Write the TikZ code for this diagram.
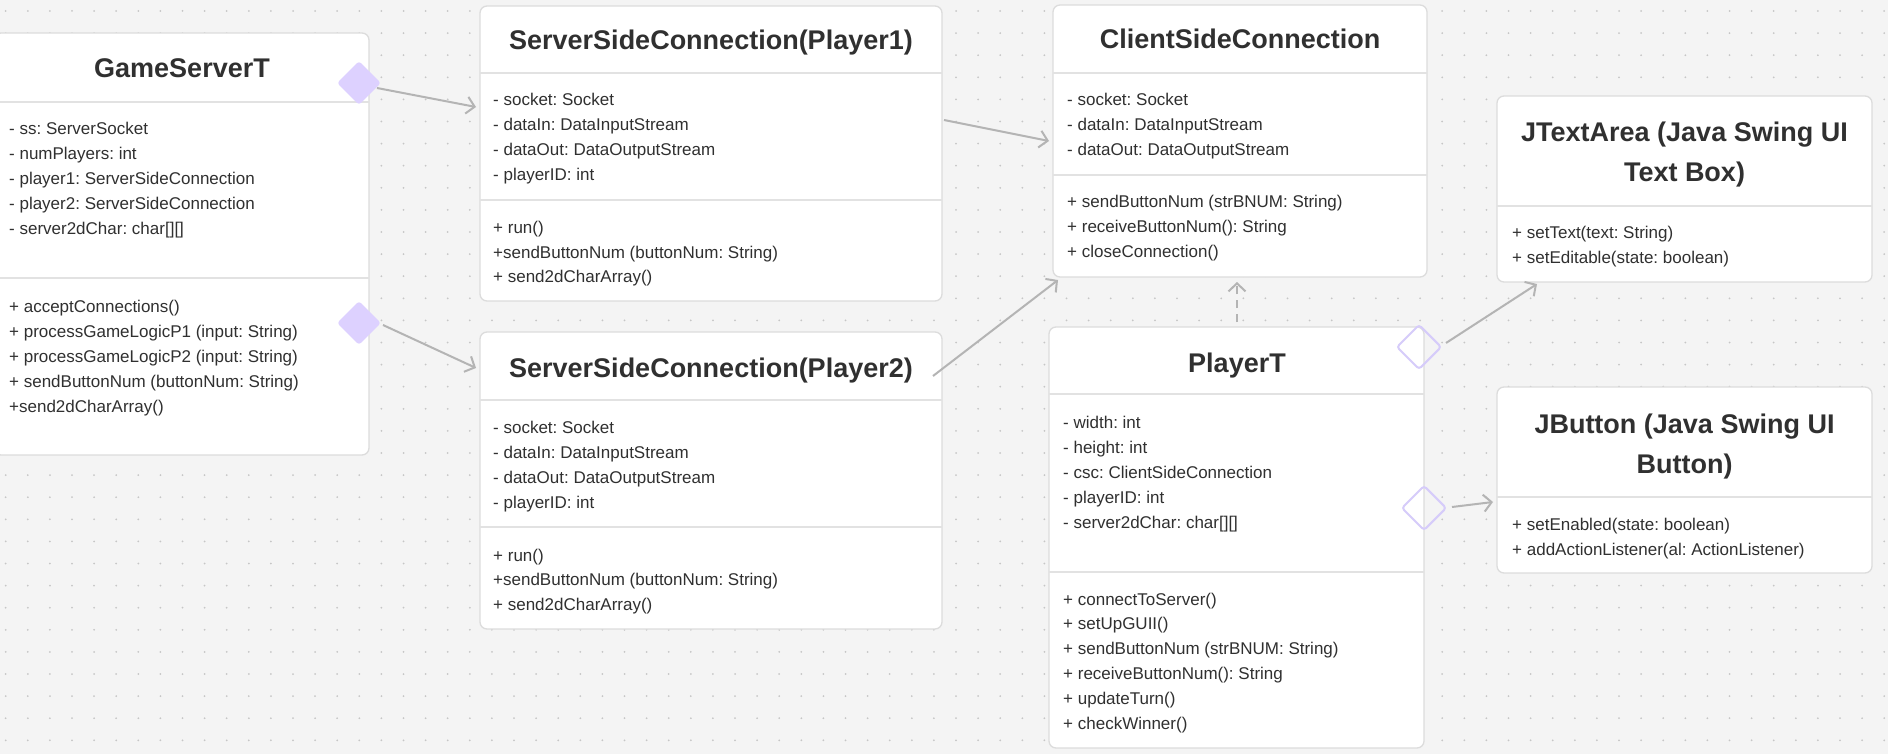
\documentclass[tikz,border=0pt]{standalone}
\usepackage{fontspec}
\setmainfont{Liberation Sans}
\frenchspacing
\usetikzlibrary{arrows.meta,shapes.geometric}
\definecolor{bgc}{HTML}{F4F4F4}
\definecolor{dotc}{HTML}{C6C6C6}
\definecolor{boxborder}{HTML}{DCDCDC}
\definecolor{sepgray}{HTML}{E2E2E2}
\definecolor{ink}{HTML}{303030}
\definecolor{arrowgray}{HTML}{B4B4B4}
\definecolor{lav}{HTML}{DDD1FF}
\definecolor{lavline}{HTML}{D6CCFA}
\tikzset{
  classbox/.style={draw=boxborder, line width=1.3pt, fill=white, rounded corners=7pt, inner sep=0pt, outer sep=0pt, anchor=north west},
  ttl/.style={font=\fontsize{27}{32}\selectfont\bfseries, text=ink, anchor=base, inner sep=0pt},
  mem/.style={font=\fontsize{17}{20}\selectfont\frenchspacing, text=ink, anchor=base west, inner sep=0pt},
  sepline/.style={draw=sepgray, line width=1.6pt},
  link/.style={draw=arrowgray, line width=2pt, -{Straight Barb[length=8pt,width=17pt,line width=2pt]}},
  agg/.style={diamond, aspect=1, inner sep=0pt, minimum width=44pt, minimum height=44pt, fill=lav, rounded corners=3pt},
  hagg/.style={diamond, aspect=1, inner sep=0pt, minimum width=45pt, minimum height=45pt, draw=lavline, line width=2pt, rounded corners=3pt},
}
\begin{document}
\begin{tikzpicture}[x=1pt,y=-1pt]
\useasboundingbox (0,0) rectangle (1888,754);
\fill[bgc] (0,0) rectangle (1888,754);
\foreach \i in {0,...,85} \foreach \j in {0,...,33}
  \fill[dotc] (5.7+22.1*\i, 11+22.1*\j) circle (1pt);

% ---------- GameServerT ----------
\node[classbox, minimum width=375pt, minimum height=422pt] (gst) at (-6,33) {};
\draw[sepline] (-6,102) -- (369,102);
\draw[sepline] (-6,278) -- (369,278);
\node[ttl] (gstt) at (182,78) {GameServerT};
\foreach \t [count=\k from 0] in {{- ss: ServerSocket},{- numPlayers: int},{- player1: ServerSideConnection},{- player2: ServerSideConnection},{- server2dChar: char[][]}}
  \node[mem] (gsa\k) at (9,135+25*\k) {\t};
\foreach \t [count=\k from 0] in {{+ acceptConnections()},{+ processGameLogicP1 (input: String)},{+ processGameLogicP2 (input: String)},{+ sendButtonNum (buttonNum: String)},{+send2dCharArray()}}
  \node[mem] (gsm\k) at (9,312+25*\k) {\t};

% ---------- ServerSideConnection(Player1) ----------
\node[classbox, minimum width=462pt, minimum height=295pt] (ssc1) at (480,6) {};
\draw[sepline] (480,73) -- (942,73);
\draw[sepline] (480,200) -- (942,200);
\node[ttl] (ssc1t) at (711,50) {ServerSideConnection(Player1)};
\foreach \t [count=\k from 0] in {{- socket: Socket},{- dataIn: DataInputStream},{- dataOut: DataOutputStream},{- playerID: int}}
  \node[mem] (s1a\k) at (493,106+25*\k) {\t};
\foreach \t [count=\k from 0] in {{+ run()},{+sendButtonNum (buttonNum: String)},{+ send2dCharArray()}}
  \node[mem] (s1m\k) at (493,234+24.5*\k) {\t};

% ---------- ServerSideConnection(Player2) ----------
\node[classbox, minimum width=462pt, minimum height=297pt] (ssc2) at (480,332) {};
\draw[sepline] (480,400) -- (942,400);
\draw[sepline] (480,527) -- (942,527);
\node[ttl] (ssc2t) at (711,377) {ServerSideConnection(Player2)};
\foreach \t [count=\k from 0] in {{- socket: Socket},{- dataIn: DataInputStream},{- dataOut: DataOutputStream},{- playerID: int}}
  \node[mem] (s2a\k) at (493,433+25*\k) {\t};
\foreach \t [count=\k from 0] in {{+ run()},{+sendButtonNum (buttonNum: String)},{+ send2dCharArray()}}
  \node[mem] (s2m\k) at (493,561+24.5*\k) {\t};

% ---------- ClientSideConnection ----------
\node[classbox, minimum width=374pt, minimum height=272pt] (csc) at (1053,5) {};
\draw[sepline] (1053,73) -- (1427,73);
\draw[sepline] (1053,175) -- (1427,175);
\node[ttl] (csct) at (1240,49) {ClientSideConnection};
\foreach \t [count=\k from 0] in {{- socket: Socket},{- dataIn: DataInputStream},{- dataOut: DataOutputStream}}
  \node[mem] (ca\k) at (1067,106+25*\k) {\t};
\foreach \t [count=\k from 0] in {{+ sendButtonNum (strBNUM: String)},{+ receiveButtonNum(): String},{+ closeConnection()}}
  \node[mem] (cm\k) at (1067,208+25*\k) {\t};

% ---------- PlayerT ----------
\node[classbox, minimum width=375pt, minimum height=421pt] (pt) at (1049,327) {};
\draw[sepline] (1049,394) -- (1424,394);
\draw[sepline] (1049,572) -- (1424,572);
\node[ttl] (ptt) at (1237,372) {PlayerT};
\foreach \t [count=\k from 0] in {{- width: int},{- height: int},{- csc: ClientSideConnection},{- playerID: int},{- server2dChar: char[][]}}
  \node[mem] (pa\k) at (1063,428+25*\k) {\t};
\foreach \t [count=\k from 0] in {{+ connectToServer()},{+ setUpGUII()},{+ sendButtonNum (strBNUM: String)},{+ receiveButtonNum(): String},{+ updateTurn()},{+ checkWinner()}}
  \node[mem] (pm\k) at (1063,605+24.8*\k) {\t};

% ---------- JTextArea ----------
\node[classbox, minimum width=375pt, minimum height=186pt] (jta) at (1497,96) {};
\draw[sepline] (1497,206) -- (1872,206);
\node[ttl] (jtat1) at (1684.5,142) {JTextArea (Java Swing UI};
\node[ttl] (jtat2) at (1684.5,182) {Text Box)};
\node[mem] (jtam0) at (1512,239) {+ setText(text: String)};
\node[mem] (jtam1) at (1512,264) {+ setEditable(state: boolean)};

% ---------- JButton ----------
\node[classbox, minimum width=375pt, minimum height=186pt] (jb) at (1497,387) {};
\draw[sepline] (1497,497) -- (1872,497);
\node[ttl] (jbt1) at (1684.5,433) {JButton (Java Swing UI};
\node[ttl] (jbt2) at (1684.5,473) {Button)};
\node[mem] (jbm0) at (1512,530) {+ setEnabled(state: boolean)};
\node[mem] (jbm1) at (1512,555) {+ addActionListener(al: ActionListener)};

% ---------- diamonds ----------
\node[agg] (d1) at (359,83) {};
\node[agg] (d2) at (359,323) {};
\node[hagg] (h1) at (1419,347) {};
\node[hagg] (h2) at (1424,508) {};

% ---------- connector ends ----------
\coordinate (a1s) at (377,88);
\coordinate (a1e) at (476,107);
\coordinate (a2s) at (383,325);
\coordinate (a2e) at (476,368);
\coordinate (a3s) at (944,120);
\coordinate (a3e) at (1049,141);
\coordinate (a4s) at (933,376);
\coordinate (a4e) at (1058,280);
\coordinate (a5s) at (1237,322);
\coordinate (a5e) at (1237,282);
\coordinate (a6s) at (1446,343);
\coordinate (a6e) at (1537,284);
\coordinate (a7s) at (1452,507);
\coordinate (a7e) at (1493,502);

\draw[link] (a1s) -- (a1e);
\draw[link] (a2s) -- (a2e);
\draw[link] (a3s) -- (a3e);
\draw[link] (a4s) -- (a4e);
\draw[link, dash pattern=on 8pt off 6pt] (a5s) -- (a5e);
\draw[link] (a6s) -- (a6e);
\draw[link] (a7s) -- (a7e);
\end{tikzpicture}
\end{document}
